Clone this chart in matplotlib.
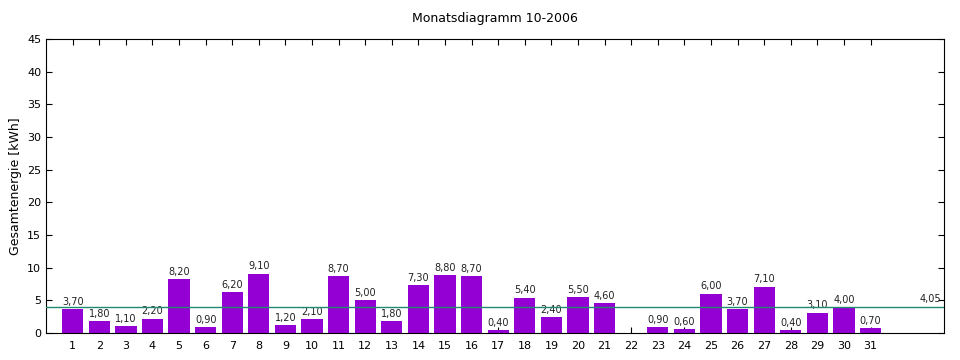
import numpy as np
import matplotlib.pyplot as plt

tage = np.arange(1, 32)
energie = [3.7, 1.8, 1.1, 2.2, 8.2, 0.9, 6.2, 9.1, 1.2, 2.1,
           8.7, 5.0, 1.8, 7.3, 8.8, 8.7, 0.4, 5.4, 2.4, 5.5,
           4.6, np.nan, 0.9, 0.6, 6.0, 3.7, 7.1, 0.4, 3.1, 4.0, 0.7]
mittel = 4.05

fig = plt.figure(figsize=(9.6, 3.6), dpi=100)
ax = fig.add_axes([0.048, 0.075, 0.935, 0.817])

werte = np.array(energie, dtype=float)
ax.bar(tage, np.nan_to_num(werte), width=0.8, color='#9400d3', zorder=2)
for t, w in zip(tage, werte):
    if np.isnan(w):
        continue
    ax.text(t, w + 0.35, '{:.2f}'.format(w).replace('.', ','), ha='center',
            va='bottom', fontsize=7, color='#222222')

ax.axhline(mittel, color='#1f8a70', lw=1, zorder=3)
ax.text(33.25, mittel + 0.35, '{:.2f}'.format(mittel).replace('.', ','),
        ha='center', va='bottom', fontsize=7, color='#222222')

ax.set_xlim(0, 33.75)
ax.set_ylim(0, 45)
ax.set_xticks(tage)
ax.set_yticks(np.arange(0, 46, 5))
ax.tick_params(direction='in', top=True, right=True, labelsize=8, length=4)
ax.tick_params(axis='x', pad=6)
ax.set_ylabel('Gesamtenergie [kWh]', fontsize=9)
ax.set_title('Monatsdiagramm 10-2006', fontsize=9, pad=12)

plt.savefig('out.png')
